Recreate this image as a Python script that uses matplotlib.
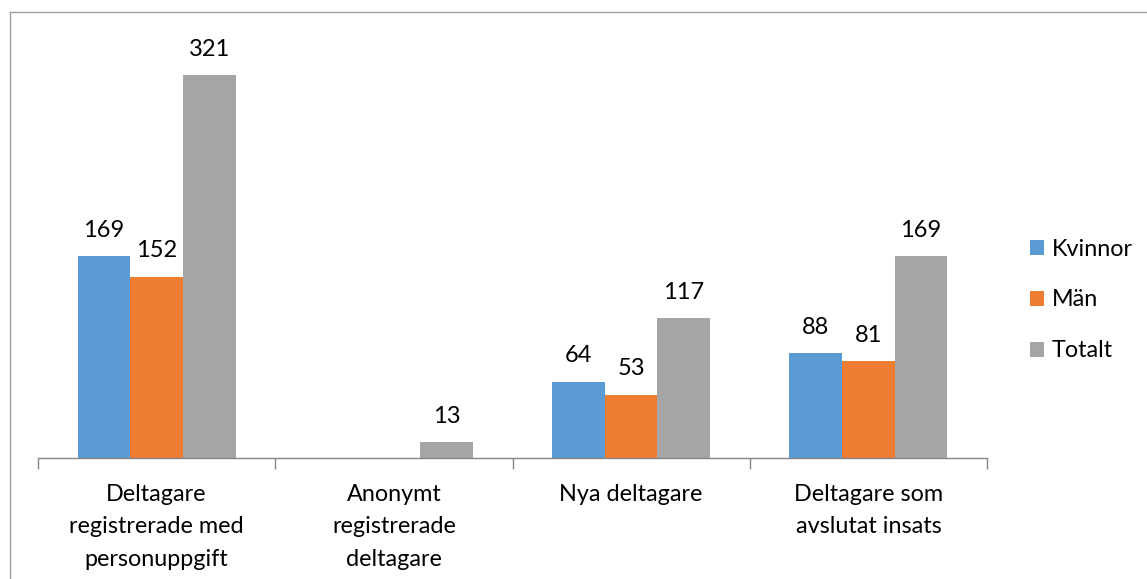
import matplotlib
matplotlib.use("Agg")
import matplotlib.pyplot as plt
from matplotlib.lines import Line2D
from matplotlib.patches import Patch
import numpy as np

categories = ["Deltagare\nregistrerade med\npersonuppgift", "Anonymt\nregistrerade\ndeltagare",
              "Nya deltagare", "Deltagare som\navslutat insats"]
series_names = ["Kvinnor", "Män", "Totalt"]
kvinnor = [169, None, 64, 88]
man = [152, None, 53, 81]
totalt = [321, 13, 117, 169]
colors = ["#5B9BD5", "#ED7D31", "#A5A5A5"]

plt.rcParams['font.family'] = ['Lato', 'DejaVu Sans']

fig = plt.figure(figsize=(11.47, 5.79), dpi=100)
ax = fig.add_axes([38/1147, 121/579, 949/1147, 417.6/579])

n = len(categories)
x = np.arange(n)
w = 1/4.5
for i, (vals, c) in enumerate(zip([kvinnor, man, totalt], colors)):
    for xi, v in zip(x, vals):
        if v is None:
            continue
        xc = xi + (i - 1) * w
        ax.bar(xc, v, width=w, color=c, edgecolor='none')
        ax.annotate(str(v), (xc, v), xytext=(0, 11), textcoords='offset points',
                    ha='center', va='bottom', fontsize=17, color='#000000')

ax.set_xlim(-0.5, n - 0.5)
ax.set_ylim(0, 350)
ax.set_yticks([])
for s in ['top', 'right', 'left']:
    ax.spines[s].set_visible(False)
ax.spines['bottom'].set_color('#868686')
ax.spines['bottom'].set_linewidth(1)
ax.set_xticks(np.arange(-0.5, n, 1.0))
ax.set_xticklabels([])
ax.tick_params(axis='x', direction='out', length=8, color='#868686', width=1)
for xi, lab in zip(x, categories):
    ax.text(xi, -0.062, lab, transform=ax.get_xaxis_transform(), ha='center', va='top',
            fontsize=16.8, linespacing=1.68, color='#000000')

handles = [Patch(facecolor=c, edgecolor='none') for c in colors]
fig.legend(handles, series_names, loc='center left', bbox_to_anchor=(1030/1147, 1 - 300/579),
           frameon=False, fontsize=16.8, handlelength=0.62, handleheight=0.62,
           labelspacing=1.28, handletextpad=0.3, borderpad=0, borderaxespad=0)

# figure frame (left and top visible)
fig.add_artist(Line2D([10/1147, 10/1147], [0, 1 - 12/579], transform=fig.transFigure, color='#A0A0A0', lw=1))
fig.add_artist(Line2D([10/1147, 1], [1 - 12/579, 1 - 12/579], transform=fig.transFigure, color='#A0A0A0', lw=1))

fig.savefig("out.png", dpi=100)
